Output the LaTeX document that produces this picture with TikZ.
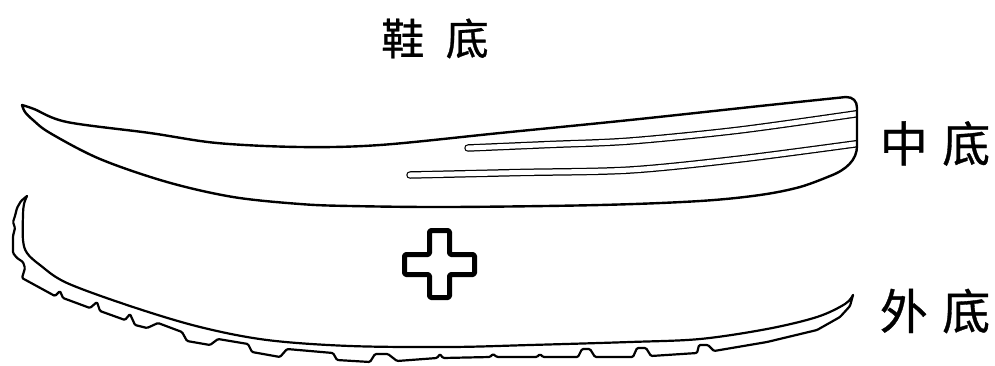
\documentclass[tikz,border=0pt]{standalone}
\usepackage{fontspec}
\newfontfamily\cjkfont[FakeBold=0.7]{Noto Sans CJK SC}
\begin{document}
\begin{tikzpicture}[x=1pt,y=-1pt,
  outline/.style={line width=2.4pt, line join=round, line cap=round},
  grooveedge/.style={line width=7.5pt, line cap=round},
  groovefill/.style={white, line width=5pt, line cap=round},
  biglabel/.style={font=\cjkfont\fontsize{48}{48}\selectfont, inner sep=0pt},
  toplabel/.style={font=\cjkfont\fontsize{43}{43}\selectfont, inner sep=0pt}]
\useasboundingbox (0,0) rectangle (995,365);

% midsole outline (toe tip on the left, rounded heel on the right)
\newcommand\midsoleshape{%
  plot[smooth, tension=0.55] coordinates {(22,105) (34,109) (67,122) (150,133)
    (217,143) (300,147) (380,145) (500,133) (630,120) (760,106) (846,97)}
  .. controls (853,97) and (857,101) .. (857,108)
  -- (857,146)
  .. controls (857,160) and (846,170) .. (830,176)
  -- plot[smooth, tension=0.55] coordinates {(830,176) (800,187) (760,195)
    (700,201) (600,205) (450,207) (350,206) (300,204) (233,197) (167,182)
    (100,159) (50,133) (33,120) (25,112) (22,105)}
  -- cycle}

% grooves along the midsole side wall
\begin{scope}
  \clip \midsoleshape;
  \draw[grooveedge] plot[smooth] coordinates {(468,148) (550,144.5) (630,141) (740,130) (862,113)};
  \draw[groovefill] plot[smooth] coordinates {(468,148) (550,144.5) (630,141) (740,130) (862,113)};
  \draw[grooveedge] plot[smooth] coordinates {(410,175) (520,172.5) (630,170) (740,159) (862,143)};
  \draw[groovefill] plot[smooth] coordinates {(410,175) (520,172.5) (630,170) (740,159) (862,143)};
\end{scope}
\draw[outline] \midsoleshape;

% outsole: tread edge with lugs
\draw[outline, line width=2.2pt, rounded corners=1.2pt]
  (27,196) -- (21,201) -- (17,208) -- (15,216) -- (13,222) -- (15,228)
  -- (13,236) -- (13,253) -- (17,258) -- (23,262) -- (25,268) -- (22,278)
  -- (55,296) -- (60,291) -- (63,298) -- (90,308) -- (97,302) -- (100,311)
  -- (125,320) -- (130,314) -- (135,325) -- (147,328) -- (158,323)
  -- (182,332) -- (187,341) -- (210,345) -- (218,339) -- (248,344)
  -- (252,352) -- (280,357) -- (287,349) -- (333,353) -- (337,360)
  -- (370,362) -- (375,354) -- (388,354) -- (397,361) -- (437,358)
  -- (440,354) -- (443,358) -- (490,357) -- (493,354) -- (497,357)
  -- (537,357) -- (540,354) -- (543,357) -- (578,357) -- (582,349)
  -- (590,349) -- (595,357) -- (633,357) -- (637,348) -- (646,348)
  -- (651,356) -- (697,353) -- (699,345) -- (708,345) -- (714,351)
  -- (767,342) -- (817,330) -- (840,317) -- (850,306) -- (853,295);
% outsole: upper edge
\draw[outline, line width=2.2pt] plot[smooth, tension=0.55] coordinates {
  (27,196) (24,204) (23,215) (23,240) (27,253) (40,265) (67,283) (133,307)
  (200,327) (267,340) (350,346) (450,347) (530,345) (630,342) (700,339)
  (767,329) (817,317) (845,304) (853,295)};

% plus sign
\draw[line width=5pt, line join=round, rounded corners=1.5pt]
  (429.5,230.5) -- (449.5,230.5) -- (449.5,254.5) -- (474.5,254.5)
  -- (474.5,274.5) -- (449.5,274.5) -- (449.5,297.5) -- (429.5,297.5)
  -- (429.5,274.5) -- (404.5,274.5) -- (404.5,254.5) -- (429.5,254.5) -- cycle;

% labels
\node[toplabel] (sole) at (435,38.5) {鞋\hspace{0.5em}底};
\node[biglabel] (mid) at (935,143.5) {中\hspace{0.3em}底};
\node[biglabel] (out) at (935,311) {外\hspace{0.3em}底};
\end{tikzpicture}
\end{document}
